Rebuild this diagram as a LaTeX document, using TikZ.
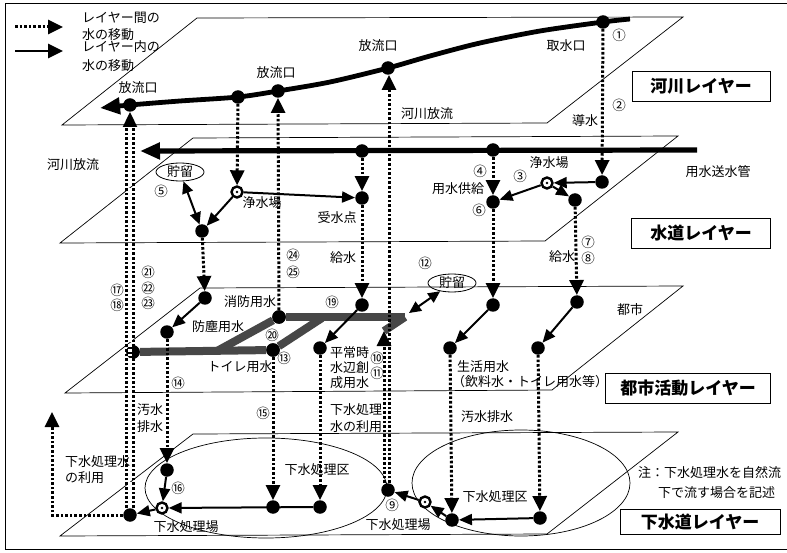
\documentclass[tikz,border=0pt]{standalone}
\usepackage{fontspec}
\setmainfont{Noto Sans CJK JP}
\usetikzlibrary{arrows.meta,shapes.geometric}
\begin{document}
\begin{tikzpicture}[x=1pt,y=-1pt,
  lay/.style={line width=0.7pt},
  dotl/.style={line width=3pt, dash pattern=on 2.6pt off 2pt},
  dotar/.style={dotl, -{Triangle[length=15pt,width=14pt]}},
  inar/.style={line width=2pt, -{Triangle[length=13pt,width=11pt]}},
  dbar/.style={line width=2pt, {Triangle[length=12pt,width=11pt]}-{Triangle[length=12pt,width=11pt]}},
  dotn/.style={circle, fill=black, inner sep=0pt, minimum size=13.5pt},
  plantn/.style={circle, draw=black, fill=white, line width=2.4pt, inner sep=0pt, minimum size=11pt,
    path picture={\fill[black] (path picture bounding box.center) circle (1.4pt);}},
  txt/.style={font=\fontsize{13}{15}\selectfont, inner sep=0pt},
  num/.style={font=\fontsize{13.5}{15}\selectfont, inner sep=0pt},
  laybox/.style={draw, line width=0.8pt, font=\fontsize{17}{19}\selectfont\bfseries, minimum height=30pt, inner sep=0pt},
  storn/.style={draw, ellipse, line width=0.8pt, inner sep=0pt, minimum width=48pt, minimum height=18pt, font=\fontsize{13}{15}\selectfont},
  pipe/.style={line width=8pt, black!72},
  bigtip/.style={-{Triangle[length=20pt,width=16pt]}}
]
\useasboundingbox (0,0) rectangle (787,553);
\fill[white] (0,0) rectangle (787,553);
% frame
\draw[line width=0.8pt] (787,3) -- (5,3) -- (5,549) -- (787,549);

% layers
\draw[lay] (197,18) -- (683,17) -- (547,123) -- (62,125) -- cycle;
\draw[lay] (193,138) -- (678,136) -- (545,241) -- (60,243) -- cycle;
\draw[lay] (200,288) -- (683,286) -- (552,390) -- (65,393) -- cycle;
\draw[lay] (193,434) -- (678,432) -- (547,534) -- (60,536) -- cycle;
\draw[lay] (266,488) ellipse [x radius=121, y radius=50];
\draw[lay] (521,483) ellipse [x radius=109, y radius=53];

% legend
\coordinate (lgA1) at (15,27); \coordinate (lgA2) at (63,27);
\coordinate (lgB1) at (15,51); \coordinate (lgB2) at (63,51);
\draw[dotar] (lgA1) -- (lgA2);
\draw[line width=2.8pt, -{Triangle[length=15pt,width=14pt]}] (lgB1) -- (lgB2);
\node[txt, anchor=west] (lg1) at (82,18) {レイヤー間の};
\node[txt, anchor=west] (lg2) at (82,35) {水の移動};
\node[txt, anchor=west] (lg3) at (82,47) {レイヤー内の};
\node[txt, anchor=west] (lg4) at (82,66) {水の移動};

% layer boxes
\node[laybox, minimum width=138pt] (boxR) at (701,86) {河川レイヤー};
\node[laybox, minimum width=139pt] (boxW) at (701,233) {水道レイヤー};
\node[laybox, minimum width=165pt] (boxC) at (688,388) {都市活動レイヤー};
\node[laybox, minimum width=160pt, minimum height=25pt] (boxS) at (700,522) {下水道レイヤー};

% river layer
\draw[line width=4.8pt, bigtip] plot[smooth, tension=0.5] coordinates {(630,19) (603,22) (540,31) (480,43) (430,56) (388,68) (330,82) (278,91) (238,97) (180,101) (130,105) (100,108)};
\node[dotn] (intake) at (603,22) {};
\node[dotn] (outR) at (388,68) {};
\node[dotn] (outM) at (278,91) {};
\node[dotn] (rv1) at (238,97) {};
\node[dotn] (outL) at (130,105) {};
\node[txt] (tIntake) at (566,46) {取水口};
\node[num] (n1) at (619,35) {①};
\node[txt] (tOutR) at (378,46) {放流口};
\node[txt] (tOutM) at (276,73) {放流口};
\node[txt] (tOutL) at (138,88) {放流口};
\node[txt] (tRivDis) at (427,114) {河川放流};
\node[txt] (tDosui) at (585,121) {導水};
\node[num] (n2) at (619,105) {②};

% water supply layer
\coordinate (pipeR) at (697,150);
\coordinate (pipeTip) at (140,151);
\draw[line width=5.2pt, bigtip] (pipeR) -- (pipeTip);
\node[dotn] (pn1) at (362,151) {};
\node[dotn] (pn2) at (493,150) {};
\node[dotn] (wR) at (602,182) {};
\node[plantn] (plantR) at (547,183) {};
\node[dotn] (wR2) at (575,200) {};
\node[dotn] (w6) at (493,202) {};
\node[plantn] (plantL) at (237,192) {};
\node[dotn] (rec) at (362,198) {};
\node[dotn] (wV) at (202,231) {};
\node[storn] (stor1) at (180,172) {貯留};
\draw[dotar] (intake) -- (wR);
\draw[inar] (wR) -- (plantR);
\draw[inar] (plantR) -- (wR2);
\draw[inar] (plantR) -- (w6);
\draw[dotar] (pn2) -- (w6);
\draw[dotar] (pn1) -- (rec);
\draw[dotar] (rv1) -- (plantL);
\draw[inar] (plantL) -- (rec);
\draw[inar] (plantL) -- (wV);
\draw[dbar] (stor1) -- (wV);
\node[txt] (tRivDis2) at (73,165) {河川放流};
\node[txt] (tPipe) at (718,172) {用水送水管};
\node[num] (n5) at (161,191) {⑤};
\node[txt] (tPlantL) at (262,203) {浄水場};
\node[txt] (tRec) at (337,218) {受水点};
\node[txt] (tKyu1) at (343,258) {給水};
\node[num] (n24) at (293,255) {㉔};
\node[num] (n25) at (293,272) {㉕};
\node[num] (n21) at (148,272) {㉑};
\node[num] (n22) at (148,288) {㉒};
\node[num] (n23) at (148,303) {㉓};
\node[num] (n17) at (117,290) {⑰};
\node[num] (n18) at (117,305) {⑱};
\node[txt] (tPlantR) at (549,163) {浄水場};
\node[num] (n3) at (520,176) {③};
\node[num] (n4) at (480,171) {④};
\node[txt] (tYosui) at (458,189) {用水供給};
\node[num] (n6) at (479,210) {⑥};
\node[num] (n7) at (588,242) {⑦};
\node[num] (n8) at (588,258) {⑧};
\node[txt] (tKyu2) at (562,257) {給水};

% city layer
\node[dotn] (c1) at (205,298) {};
\node[dotn] (c2) at (167,332) {};
\node[dotn] (cpL) at (133,352) {};
\node[dotn] (cJ) at (279,317) {};
\node[dotn] (c13) at (273,350) {};
\node[dotn] (c19) at (362,305) {};
\node[dotn] (c10) at (320,348) {};
\node[dotn] (c5a) at (493,305) {};
\node[dotn] (c5b) at (450,348) {};
\node[dotn] (c7a) at (577,302) {};
\node[dotn] (c7b) at (538,348) {};
\node[storn] (stor2) at (452,283) {貯留};
\coordinate (pipeE) at (405,317);
\coordinate (pipeB) at (217,351);
\coordinate (pipeC) at (322,318);
\coordinate (recTip) at (384,331);
\coordinate (pipeE2) at (409,313);
\draw[pipe] (cpL) -- (c13);
\draw[pipe] (pipeB) -- (cJ);
\draw[pipe] (cJ) -- (pipeE);
\draw[pipe] (c13) -- (pipeC);
\draw[pipe] (pipeE) -- (recTip);
\node[dotn] at (cJ) {};
\node[dotn] at (c13) {};
\node[dotn] at (cpL) {};
\draw[dotar] (wV) -- (c1);
\draw[inar] (c1) -- (c2);
\draw[dotar] (cJ) -- (outM);
\draw[dotar] (rec) -- (c19);
\draw[inar] (c19) -- (c10);
\draw[dbar] (stor2) -- (pipeE2);
\draw[dotar] (w6) -- (c5a);
\draw[inar] (c5a) -- (c5b);
\draw[dotar] (wR2) -- (c7a);
\draw[inar] (c7a) -- (c7b);
\node[txt] (tShobo) at (250,302) {消防用水};
\node[txt] (tBojin) at (218,327) {防塵用水};
\node[num] (n20) at (272,335) {⑳};
\node[txt] (tToilet) at (240,367) {トイレ用水};
\node[num] (n13) at (284,358) {⑬};
\node[num] (n19) at (332,302) {⑲};
\node[num] (n12) at (425,263) {⑫};
\node[txt, anchor=west] (tHei1) at (330,353) {平常時};
\node[txt, anchor=west] (tHei2) at (330,368) {水辺創};
\node[txt, anchor=west] (tHei3) at (330,383) {成用水};
\node[num] (n10) at (377,358) {⑩};
\node[num] (n11) at (377,373) {⑪};
\node[txt, anchor=west] (tSeikatsu) at (457,367) {生活用水};
\node[txt, anchor=west] (tInryo) at (452,382) {（飲料水・トイレ用水等）};
\node[txt] (tToshi) at (630,310) {都市};
\node[num] (n14) at (178,383) {⑭};
\node[num] (n15) at (263,413) {⑮};
\node[txt] (tOsui1) at (150,410) {汚水};
\node[txt] (tOsui2) at (150,427) {排水};
\node[txt, anchor=west] (tGesui1) at (330,410) {下水処理};
\node[txt, anchor=west] (tGesui2) at (330,427) {水の利用};
\node[txt] (tOsuiHai) at (487,417) {汚水排水};

% sewer layer
\node[dotn] (s16) at (167,470) {};
\node[plantn] (sP1) at (162,508) {};
\node[dotn] (sL) at (130,515) {};
\node[dotn] (s15) at (273,507) {};
\node[dotn] (s10) at (320,507) {};
\node[dotn] (s9) at (388,490) {};
\node[plantn] (sP2) at (425,502) {};
\node[dotn] (sA) at (452,520) {};
\node[dotn] (sB) at (540,518) {};
\coordinate (useTip) at (52,412);
\coordinate (lTop) at (130,127);
\draw[dotar] (c2) -- (s16);
\draw[inar] (s16) -- (sP1);
\draw[dotar] (c13) -- (s15);
\draw[dotar] (c10) -- (s10);
\draw[inar] (s10) -- (sP1);
\draw[inar] (sP1) -- (sL);
\draw[dotar] (sL) -| (useTip);
\draw[dotl, double=white, double distance=3.4pt] (sL) -- (lTop);
\draw[line width=2pt, -{Triangle[length=15pt,width=14pt]}] (lTop) -- (outL);
\draw[dotar] ([xshift=1pt]s9.north) -- ([xshift=1pt]outR.south);
\draw[dotar] ([xshift=-4pt]s9.north) -- (recTip);
\draw[inar] (sP2) -- (s9);
\draw[inar] (sA) -- (sP2);
\draw[inar] (sB) -- (sA);
\draw[dotar] (c5b) -- (sA);
\draw[dotar] (c7b) -- (sB);
\node[txt, anchor=west] (tUse1) at (65,462) {下水処理水};
\node[txt, anchor=west] (tUse2) at (65,478) {の利用};
\node[txt] (tKu1) at (317,470) {下水処理区};
\node[num] (n16) at (178,488) {⑯};
\node[txt] (tJo1) at (186,527) {下水処理場};
\node[num] (n9) at (392,505) {⑨};
\node[txt] (tJo2) at (398,525) {下水処理場};
\node[txt] (tKu2) at (495,497) {下水処理区};
\node[txt, anchor=west] (tNote1) at (638,473) {注：下水処理水を自然流};
\node[txt, anchor=west] (tNote2) at (658,493) {下で流す場合を記述};
\end{tikzpicture}
\end{document}
